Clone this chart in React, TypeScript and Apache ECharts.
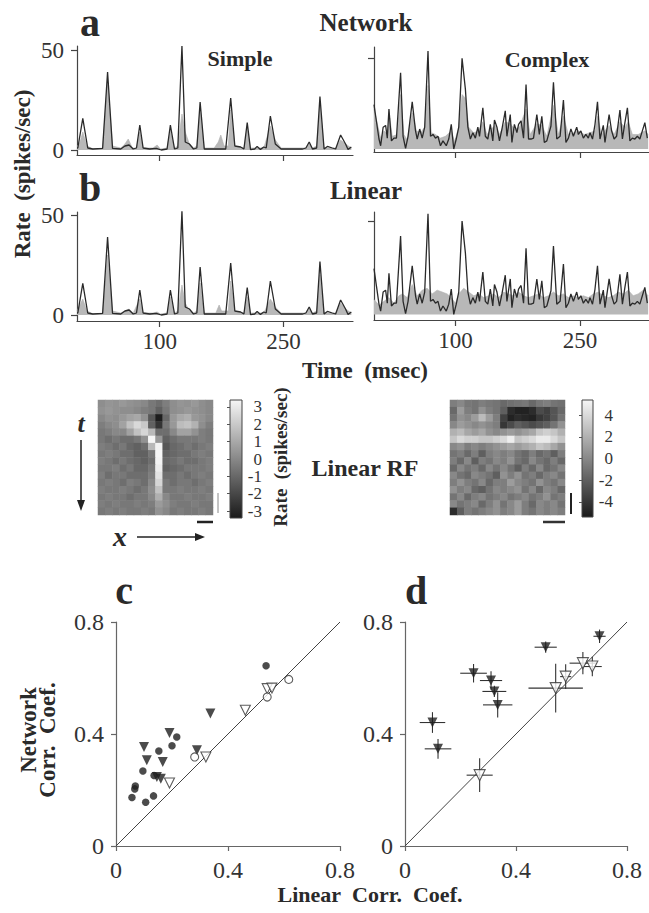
import React, { useEffect, useRef } from "react";
import * as echarts from "echarts";

const FONT = "Liberation Serif";
const INK = "#2a2a2a";

// ---- time traces: [time (msec), rate (spikes/sec)] ----
const timeTicks = [100, 250];
const simpleResponse = [[0,1],[1,1],[7,15.8],[13,1],[19,0.5],[31,0.8],[37,39],[43,0.8],[53,0.5],[58,2],[63,2.5],[68,0.5],[72,1],[76,12.5],[80,1],[88,0.5],[96,0.8],[102,0],[109,0.5],[113,12.5],[118,0.5],[122,1],[127,52],[131,4],[136,3],[141,0.5],[145,1],[149,24],[154,0.5],[168,0.5],[180,0.5],[186,26],[191,2],[198,1.5],[202,0.5],[206,13.7],[210,0.2],[215,0.5],[218,1.8],[222,0.3],[226,1.5],[229,1],[234,17],[240,3],[247,0.5],[261,0.5],[273,0.5],[277,1],[281,4],[285,0.5],[290,1],[294,26.7],[299,0.5],[303,1.8],[309,1],[313,0.5],[319,7.5],[325,3],[328,0.3],[332,1.5]];
const simpleNetwork = [[0,2],[3,3],[7,9],[12,2],[20,0.5],[31,1],[37,35],[43,2],[53,1],[58,3],[62,5.5],[67,1],[72,1],[76,9],[80,1],[92,1],[97,2.5],[101,0.5],[109,1],[113,10],[118,1],[122,2],[127,18],[131,9],[136,3],[141,1],[145,2],[149,20],[154,1],[166,1],[171,4],[174,7.5],[178,2],[183,2],[186,20],[191,2],[202,1],[206,11],[210,1],[226,1],[234,12],[240,5],[247,1],[277,1],[281,3],[285,1],[290,2],[294,22],[299,1],[313,1],[319,5],[325,3],[332,1]];
const simpleLinear = [[0,2],[7,8],[12,2],[20,0.5],[31,1],[37,30],[43,2],[53,1],[58,2],[63,3],[68,1],[76,8],[80,1],[92,1],[97,1.5],[101,0.5],[109,1],[113,9],[118,1],[122,2],[127,15],[131,6],[136,2],[141,1],[145,2],[149,16],[154,1],[168,1],[172,5],[175,2],[183,2],[186,17],[191,2],[202,1],[206,9],[210,1],[226,1],[234,8],[240,4],[247,1],[277,1],[281,3],[285,1],[290,2],[294,20],[299,1],[313,1],[319,6],[325,3],[332,1]];
const complexResponse = [[2,24.5],[5,15],[8,5.5],[10,1.8],[13,12],[16,13],[18,6],[20,22],[23,4.5],[26,6],[29,6],[34,42],[37,7],[40,0.4],[43,7],[48,26],[52,10],[54,5.5],[57,11],[60,6],[63,12],[67,54],[70,7],[73,8],[76,6],[79,7],[82,1.8],[85,4.5],[89,1.8],[92,5.5],[95,13.6],[98,0],[101,5.5],[104,12],[108,50],[112,33],[115,12],[118,5.5],[121,9],[124,6],[127,12],[129,7],[133,22.7],[136,7],[139,5.5],[142,13.6],[145,4.5],[147,16],[150,12],[153,4.5],[156,11],[160,21],[162,7],[166,19],[168,3.6],[171,13.6],[174,9],[176,13.6],[179,15.5],[182,6],[185,35.5],[188,5.5],[191,5.5],[194,6],[198,19],[201,8],[204,18],[207,3.6],[210,4.5],[215,12.7],[218,36.7],[222,5.5],[226,7],[230,27],[233,3.6],[236,6],[239,11],[242,7],[246,12],[248,8],[251,10],[254,6],[257,8],[260,6],[262,9],[265,5.5],[268,13.6],[271,26],[274,5.5],[278,13],[280,3.6],[285,19],[288,10],[291,5.5],[294,7],[298,21.5],[301,5.5],[304,14.5],[307,22.7],[310,4.5],[313,6],[316,5.5],[319,7],[322,5.5],[325,10],[328,14.5],[331,6]];
const complexNetwork = [[2,22],[6,14],[10,6],[14,10],[18,8],[21,17],[24,7],[30,8],[34,30],[38,8],[42,5],[48,20],[53,10],[58,9],[63,12],[67,35],[71,9],[76,8],[82,6],[88,7],[95,10],[99,4],[104,12],[108,30],[112,28],[116,12],[122,9],[128,10],[133,15],[138,8],[143,11],[148,13],[153,8],[160,15],[166,14],[171,11],[177,12],[185,22],[190,8],[198,14],[204,13],[210,7],[218,24],[224,8],[230,18],[236,8],[242,9],[248,10],[255,8],[262,9],[268,10],[271,18],[276,8],[285,13],[291,8],[298,15],[304,12],[308,15],[313,8],[320,8],[328,10],[332,8]];
const complexLinear = [[2,8],[8,5],[14,7],[20,9],[26,6],[32,10],[36,11],[42,9],[48,16],[54,10],[60,13],[66,14],[72,11],[78,13],[84,12],[90,11],[95,9],[100,6],[104,11],[110,14],[116,12],[122,10],[128,11],[134,9],[140,10],[146,11],[152,9],[158,12],[164,11],[170,10],[176,12],[182,10],[188,9],[194,10],[200,11],[206,9],[212,10],[218,12],[224,10],[230,11],[236,9],[242,10],[248,9],[254,10],[260,9],[266,11],[272,12],[278,10],[284,9],[290,10],[296,12],[302,11],[308,13],[314,10],[320,11],[326,13],[332,10]];

// ---- linear receptive fields (rows = t, cols = x), spikes/sec ----
const rfSimple = [
  [0.2,0.4,0.3,0.5,0.3,0.2,0.0,-0.5,-0.8,-0.3,0.2,0.4,0.3,0.5,0.2,0.0],
  [0.3,0.5,0.3,0.2,0.2,0.0,-0.3,-0.5,-1.2,-0.5,0.2,0.3,0.5,0.3,0.2,0.0],
  [0.0,0.3,0.2,0.5,0.8,1.0,0.3,-1.5,-3.3,-1.0,0.5,1.0,1.2,0.5,0.3,0.0],
  [-0.3,0.0,0.2,0.8,1.8,2.5,2.0,-1.2,-2.6,-0.5,0.5,1.6,1.8,1.3,0.2,-0.3],
  [-0.5,-0.3,0.0,0.0,0.8,1.8,2.4,1.5,-0.8,-0.8,0.0,0.8,0.8,0.3,-0.3,-0.5],
  [-0.5,-0.8,-0.5,-0.8,-0.8,-0.5,0.3,3.4,0.5,-1.2,-0.8,-0.5,-0.5,-0.5,-0.3,-0.5],
  [-0.3,-0.5,-0.8,-0.5,-1.0,-1.2,-0.8,1.5,3.3,-1.5,-1.0,-0.8,-0.5,-0.8,-0.5,-0.3],
  [-0.5,-0.3,-0.5,-0.8,-0.8,-1.2,-1.2,-0.5,3.4,-1.2,-1.0,-0.8,-0.8,-0.5,-0.3,-0.5],
  [-0.3,-0.5,-0.8,-0.5,-0.8,-1.0,-1.2,-0.8,3.3,-1.0,-0.8,-0.5,-0.8,-0.8,-0.5,-0.3],
  [-0.5,-0.5,-0.3,-0.8,-0.5,-1.0,-1.0,-0.5,3.1,-1.2,-1.0,-0.8,-0.5,-0.5,-0.5,-0.3],
  [-0.3,-0.8,-0.5,-0.5,-0.8,-0.8,-0.8,-0.3,2.8,-0.8,-0.8,-0.5,-0.8,-0.5,-0.3,-0.5],
  [-0.5,-0.3,-0.5,-0.8,-0.3,-0.5,-0.8,0.0,2.4,-0.5,-0.8,-0.5,-0.5,-0.8,-0.5,-0.3],
  [-0.3,-0.5,-0.5,-0.3,-0.5,-0.8,-0.5,0.2,1.8,-0.5,-0.5,-0.3,-0.5,-0.5,-0.3,-0.5],
  [-0.5,-0.3,-0.5,-0.5,-0.8,-0.5,-0.5,0.0,1.2,0.0,-0.5,-0.5,-0.3,-0.5,-0.5,-0.3],
  [-0.3,-0.5,-0.3,-0.5,-0.5,-0.3,-0.5,-0.3,0.6,0.2,-0.3,-0.5,-0.5,-0.3,-0.5,-0.5],
  [-0.5,-0.3,-0.5,-0.3,-0.5,-0.5,-0.3,-0.5,0.3,0.0,-0.5,-0.3,-0.5,-0.5,-0.3,-0.5],
];
const rfComplex = [
  [-0.5,0,-0.8,-1,-0.5,-0.8,-1,-1.5,-1.2,-1,-0.8,-1.5,-0.8,-0.5,-1,-1.2],
  [-1.5,1,-0.5,-1,0.5,-0.5,-1,-2,-4.5,-5,-5,-4.5,-3,-3.5,-2.5,-1.5],
  [-1,0.5,0,1,2.5,1,-0.5,-3.5,-5,-4.5,-4.8,-5,-4,-3.5,-2.5,-1],
  [0,1,0.5,0,0.5,0,-0.5,-4,-3,-2,-2.5,-3,-2.5,-2,-1,0.5],
  [2,2.5,1.5,1,1.5,0.5,0,0.5,1,0.5,1,1.5,3,3.5,3,2],
  [3,4,3.5,3.5,3,3,3.5,4,5,3,3.5,4,4.8,4.8,4,3],
  [0,0.5,-0.5,0,-0.5,0,0.5,1,1.5,1,1.5,2,3,2.5,1.5,0.5],
  [-1,-0.5,-1.5,-0.5,-2,-0.5,0,-0.5,0,-1,-1.5,-0.5,-1.5,-1,-2,-0.5],
  [-0.5,-1.5,0,-2,-0.5,-1,0,-0.5,0.5,-1,-1.5,0,-1,-1.5,-0.5,-1.5],
  [-1.5,0,-1,-0.5,-1.5,0,-1,0,-1,-2,-0.5,-1.5,0,-1.5,-1,0],
  [0,-1,-1.5,0,-0.5,-1,-2,0.5,-0.5,0.5,-1,-0.5,-1.5,-0.5,0,-1],
  [-0.5,0.5,-0.5,-1,0,-1.5,-0.5,-0.5,1,0,-0.5,-1,0.5,-0.5,-1,0],
  [0.5,-0.5,0,-1.5,-2,-1,0,-0.5,0,0.5,-1,0,-1.5,0,-0.5,-1.5],
  [-1,0,-1.5,-0.5,0,-1,-0.5,0,-1,-0.5,0,-1,-0.5,0.5,-1,-0.5],
  [0,-1,-0.5,0,-1.5,-0.5,0.5,-1,0,1,-0.5,-1.5,0,-0.5,0,-1],
  [-4.5,-2,-0.5,-1,-0.5,0,0.5,-0.5,0,1,-0.5,-1,0,-0.5,0,-0.5],
];
const cbSimpleTicks = [3, 2, 1, 0, -1, -2, -3];
const cbComplexTicks = [4, 2, 0, -2, -4];

// ---- correlation scatter (c, d): [linear, network] ----
const cFilledCircles = [[0.536,0.644],[0.217,0.389],[0.2,0.358],[0.153,0.339],[0.096,0.268],[0.069,0.214],[0.067,0.204],[0.057,0.173],[0.106,0.156],[0.134,0.179],[0.136,0.252]];
const cFilledTriangles = [[0.337,0.473],[0.191,0.404],[0.1,0.354],[0.11,0.306],[0.167,0.3],[0.289,0.342],[0.146,0.246],[0.16,0.24]];
const cOpenTriangles = [[0.191,0.225],[0.321,0.318],[0.462,0.485],[0.54,0.562],[0.557,0.564]];
const cOpenCircles = [[0.281,0.318],[0.54,0.532],[0.617,0.595]];
// [x, y, xErr, yErr]
const dFilled = [[0.099,0.441,0.046,0.037],[0.119,0.347,0.048,0.035],[0.247,0.617,0.048,0.033],[0.31,0.591,0.04,0.033],[0.322,0.552,0.043,0.02],[0.334,0.504,0.053,0.045],[0.507,0.71,0.04,0.02],[0.701,0.749,0.022,0.024]];
const dOpen = [[0.269,0.253,0.047,0.06],[0.543,0.564,0.098,0.087],[0.579,0.605,0.02,0.044],[0.641,0.653,0.048,0.04],[0.675,0.641,0.034,0.035]];
const corrTicks = [0, 0.4, 0.8];

function serifLabel(size: number, extra: any = {}) {
  return {
    fontSize: size, fontFamily: FONT, color: "#333",
    formatter: "{s|{value}}",
    rich: { s: { fontSize: size, fontFamily: FONT, color: "#333" } },
    ...extra,
  };
}
function traceX(grid: number, min: number, max: number, labels: boolean) {
  return {
    type: "value", gridIndex: grid, min, max,
    axisLine: { show: true, onZero: false, lineStyle: { color: "#444", width: 1.2 } },
    axisTick: { show: true, length: 6, customValues: timeTicks, lineStyle: { color: "#444", width: 1.2 } },
    axisLabel: serifLabel(23, { show: labels, customValues: timeTicks, margin: 9 }),
    splitLine: { show: false },
  };
}
function traceY(grid: number, min: number, max: number, ticks: number[], labels: boolean) {
  return {
    type: "value", gridIndex: grid, min, max,
    axisLine: { show: true, onZero: false, lineStyle: { color: "#444", width: 1.2 } },
    axisTick: { show: true, length: 6, customValues: ticks, lineStyle: { color: "#444", width: 1.2 } },
    axisLabel: serifLabel(23, { show: labels, customValues: ticks, margin: 13 }),
    splitLine: { show: false },
  };
}
function catAxis(grid: number, n: number, inverse: boolean) {
  return { type: "category", gridIndex: grid, data: Array.from({ length: n }, (_, i) => String(i)), show: false, inverse };
}
function cbY(grid: number, lim: number, ticks: number[]) {
  return {
    type: "value", gridIndex: grid, min: -lim, max: lim, position: "right", z: 10,
    axisLine: { show: false },
    axisTick: { show: true, inside: true, length: 3, customValues: ticks, lineStyle: { color: "#555" } },
    axisLabel: serifLabel(17, { customValues: ticks, align: "right", margin: 20 }),
    splitLine: { show: false },
  };
}
function corrAxis(grid: number) {
  return {
    type: "value", gridIndex: grid, min: 0, max: 0.8, interval: 0.4,
    axisLine: { show: true, onZero: false, lineStyle: { color: "#666", width: 1.2 } },
    axisTick: { show: true, length: 5, lineStyle: { color: "#666", width: 1.2 } },
    axisLabel: serifLabel(24, { customValues: corrTicks, margin: 12 }),
    splitLine: { show: false },
  };
}

function grayArea(xi: number, data: number[][]) {
  return {
    type: "line", xAxisIndex: xi, yAxisIndex: xi, data, symbol: "none", silent: true,
    lineStyle: { width: 0.6, color: "#b0b0b0" }, areaStyle: { color: "#b8b8b8", opacity: 1 }, z: 2,
  };
}
function blackLine(xi: number, data: number[][]) {
  return {
    type: "line", xAxisIndex: xi, yAxisIndex: xi, data, symbol: "none", silent: true,
    lineStyle: { width: 1.3, color: INK }, z: 3,
  };
}
function errorBars(data: number[][]) {
  return {
    type: "custom", xAxisIndex: 9, yAxisIndex: 9, data, silent: true, z: 2,
    encode: { x: 0, y: 1 },
    renderItem: (_p: any, api: any) => {
      const x = api.value(0), y = api.value(1), ex = api.value(2), ey = api.value(3);
      const a = api.coord([x - ex, y]), b = api.coord([x + ex, y]);
      const c = api.coord([x, y - ey]), d = api.coord([x, y + ey]);
      return {
        type: "group",
        children: [
          { type: "line", shape: { x1: a[0], y1: a[1], x2: b[0], y2: b[1] }, style: { stroke: "#333", lineWidth: 1.1 } },
          { type: "line", shape: { x1: c[0], y1: c[1], x2: d[0], y2: d[1] }, style: { stroke: "#333", lineWidth: 1.1 } },
        ],
      };
    },
  };
}
function scatter(xi: number, data: number[][], symbol: string, filled: boolean, size: number, rotate = 0) {
  return {
    type: "scatter", xAxisIndex: xi, yAxisIndex: xi, data: data.map((d) => [d[0], d[1]]), symbol, symbolSize: size, symbolRotate: rotate,
    silent: true, z: 4,
    itemStyle: filled ? { color: "#1e1e1e", borderWidth: 0 } : { color: "#ffffff", borderColor: "#333", borderWidth: 1.1 },
  };
}

function txt(text: string, x: number, y: number, size: number, opts: any = {}) {
  return {
    type: "text", x, y, rotation: opts.rotation || 0, z: 20,
    style: {
      text, fill: INK, fontSize: size, fontFamily: FONT, fontWeight: opts.weight || "bold",
      fontStyle: opts.italic ? "italic" : "normal", textAlign: "center", textVerticalAlign: "middle",
    },
  };
}
function seg(x1: number, y1: number, x2: number, y2: number, color: string, w: number) {
  return { type: "line", z: 20, shape: { x1, y1, x2, y2 }, style: { stroke: color, lineWidth: w } };
}

function buildOption() {
  const gray = ["#1a1a1a", "#f6f6f6"];
  const cbFill = () => new echarts.graphic.LinearGradient(0, 0, 0, 1, [{ offset: 0, color: gray[1] }, { offset: 1, color: gray[0] }]);
  const NBSP2 = "\u00a0\u00a0";
  return {
    animation: false,
    backgroundColor: "#ffffff",
    textStyle: { fontFamily: FONT },
    grid: [
      { left: 77, top: 46, width: 276, height: 109 },
      { left: 374, top: 47, width: 276, height: 105 },
      { left: 77, top: 212, width: 276, height: 109 },
      { left: 374, top: 212, width: 276, height: 108 },
      { left: 98, top: 400, width: 115, height: 115 },
      { left: 230, top: 400, width: 12, height: 118 },
      { left: 450, top: 400, width: 115, height: 115 },
      { left: 582, top: 400, width: 11, height: 117 },
      { left: 116, top: 622, width: 224, height: 224 },
      { left: 405, top: 622, width: 222, height: 224 },
    ],
    xAxis: [
      traceX(0, 0, 334, false),
      traceX(1, 2, 333, false),
      traceX(2, 0, 334, true),
      traceX(3, 2, 333, true),
      catAxis(4, rfSimple[0].length, false),
      { type: "value", gridIndex: 5, min: 0, max: 1, show: false },
      catAxis(6, rfComplex[0].length, false),
      { type: "value", gridIndex: 7, min: 0, max: 1, show: false },
      corrAxis(8),
      corrAxis(9),
    ],
    yAxis: [
      traceY(0, -2.5, 52, [0, 50], true),
      traceY(1, -1.65, 56.2, [50], false),
      traceY(2, -3, 51.5, [0, 50], true),
      traceY(3, -3, 54.9, [50], false),
      catAxis(4, rfSimple.length, true),
      cbY(5, 3.4, cbSimpleTicks),
      catAxis(6, rfComplex.length, true),
      cbY(7, 5.4, cbComplexTicks),
      corrAxis(8),
      corrAxis(9),
    ],
    visualMap: [
      { show: false, seriesIndex: 8, min: -3.4, max: 3.4, inRange: { color: gray } },
      { show: false, seriesIndex: 9, min: -5.4, max: 5.4, inRange: { color: gray } },
    ],
    series: [
      grayArea(0, simpleNetwork), blackLine(0, simpleResponse),
      grayArea(1, complexNetwork), blackLine(1, complexResponse),
      grayArea(2, simpleLinear), blackLine(2, simpleResponse),
      grayArea(3, complexLinear), blackLine(3, complexResponse),
      { type: "heatmap", xAxisIndex: 4, yAxisIndex: 4, silent: true, data: rfSimple.flatMap((row, r) => row.map((v, c) => [c, r, v])) },
      { type: "heatmap", xAxisIndex: 6, yAxisIndex: 6, silent: true, data: rfComplex.flatMap((row, r) => row.map((v, c) => [c, r, v])) },
      { type: "line", xAxisIndex: 8, yAxisIndex: 8, data: [[0, 0], [0.8, 0.8]], symbol: "none", silent: true, lineStyle: { color: "#444", width: 1 }, z: 1 },
      scatter(8, cFilledCircles, "circle", true, 7.5),
      scatter(8, cFilledTriangles, "triangle", true, 10, 180),
      scatter(8, cOpenTriangles, "triangle", false, 10, 180),
      scatter(8, cOpenCircles, "circle", false, 8),
      { type: "line", xAxisIndex: 9, yAxisIndex: 9, data: [[0, 0], [0.8, 0.8]], symbol: "none", silent: true, lineStyle: { color: "#444", width: 1 }, z: 1 },
      errorBars(dFilled),
      errorBars(dOpen),
      scatter(9, dFilled, "triangle", true, 10, 180),
      scatter(9, dOpen, "triangle", false, 11, 180),
    ],
    graphic: [
      { type: "rect", z: 1, shape: { x: 230, y: 400, width: 12, height: 118 }, style: { fill: cbFill(), stroke: "#444", lineWidth: 1 } },
      { type: "rect", z: 1, shape: { x: 582, y: 400, width: 11, height: 117 }, style: { fill: cbFill(), stroke: "#444", lineWidth: 1 } },
      txt("a", 90, 22, 40),
      txt("b", 90, 187, 40),
      txt("c", 124, 590, 40),
      txt("d", 416, 590, 40),
      txt("Network", 366, 22.5, 25),
      txt("Linear", 366, 190, 25),
      txt("Simple", 240, 58.5, 22),
      txt("Complex", 547, 59.5, 22),
      txt("Rate" + NBSP2 + "(spikes/sec)", 22, 174, 23, { rotation: Math.PI / 2 }),
      txt("Time" + NBSP2 + "(msec)", 365, 370, 23),
      txt("Linear RF", 365, 467.5, 24),
      txt("Rate" + NBSP2 + "(spikes/sec)", 280, 457, 19, { rotation: Math.PI / 2 }),
      txt("t", 81, 423, 26, { italic: true }),
      txt("x", 120, 536, 28, { italic: true }),
      txt("Network", 28, 730, 23, { rotation: Math.PI / 2 }),
      txt("Corr." + NBSP2 + "Coef.", 47, 740, 23, { rotation: Math.PI / 2 }),
      txt("Linear" + NBSP2 + "Corr." + NBSP2 + "Coef.", 370, 894, 22),
      seg(81, 440, 81, 503, "#222", 1.5),
      { type: "polygon", z: 20, shape: { points: [[77, 500], [85, 500], [81, 511]] }, style: { fill: "#222" } },
      seg(137, 537, 198, 537, "#222", 1.5),
      { type: "polygon", z: 20, shape: { points: [[195, 533], [195, 541], [205, 537]] }, style: { fill: "#222" } },
      seg(218, 493, 218, 513, "#888", 1),
      seg(197, 522, 213, 522, "#222", 2.5),
      seg(571, 493, 571, 514, "#222", 2),
      seg(543, 522, 565, 522, "#333", 2.5),
    ],
  };
}

export default function App() {
  const ref = useRef<HTMLDivElement>(null);
  useEffect(() => {
    if (!ref.current) return;
    const chart = echarts.init(ref.current, null, { renderer: "svg", width: 649, height: 913 });
    chart.setOption(buildOption() as any);
    return () => chart.dispose();
  }, []);
  return <div ref={ref} style={{ position: "absolute", left: 0, top: 0, width: 649, height: 913 }} />;
}
